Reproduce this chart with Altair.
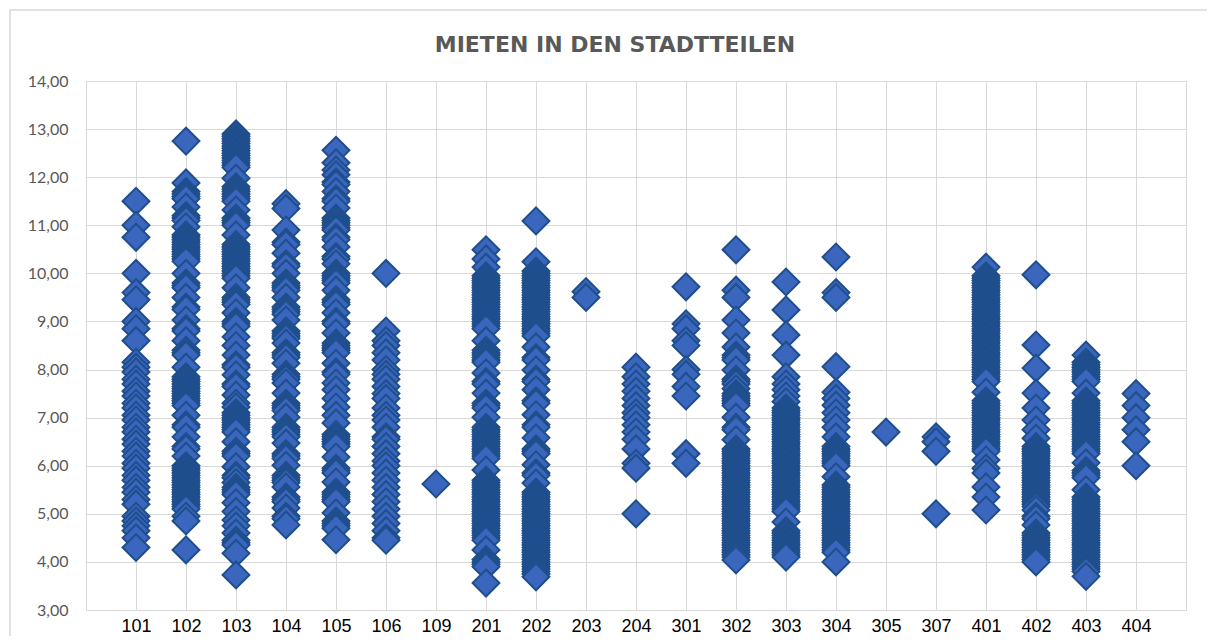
import altair as alt
import pandas as pd

title_text = "MIETEN IN DEN STADTTEILEN"
districts = ["101", "102", "103", "104", "105", "106", "109", "201", "202", "203", "204",
             "301", "302", "303", "304", "305", "307", "401", "402", "403", "404"]
y_ticks = [3, 4, 5, 6, 7, 8, 9, 10, 11, 12, 13, 14]

r101 = [11.5, 11.0, 10.75, 10.0, 9.6, 9.45, 9.0, 8.85, 8.6, 8.15, 8.05, 7.95, 7.8, 7.7, 7.55, 7.45,
        7.3, 7.2, 7.05, 6.95, 6.8, 6.7, 6.55, 6.45, 6.3, 6.2, 6.05, 5.95, 5.8, 5.7, 5.55, 5.45, 5.3,
        5.2, 4.95, 4.85, 4.75, 4.65, 4.5, 4.3]
r102 = [12.75, 11.88, 11.7, 11.65, 11.6, 11.55, 11.38, 11.2, 11.15, 11.1, 10.97, 10.8, 10.75,
        10.7, 10.65, 10.6, 10.55, 10.5, 10.45, 10.4, 10.35, 10.3, 10.25, 10.0, 9.8, 9.75, 9.7,
        9.5, 9.3, 9.25, 9.03, 8.85, 8.8, 8.6, 8.4, 8.35, 8.3, 8.05, 7.85, 7.8, 7.75, 7.7, 7.65,
        7.6, 7.55, 7.5, 7.45, 7.4, 7.35, 7.3, 7.25, 7.05, 6.85, 6.8, 6.6, 6.4, 6.35, 6.2, 6.0,
        5.95, 5.9, 5.85, 5.8, 5.75, 5.7, 5.65, 5.6, 5.55, 5.5, 5.45, 5.4, 5.35, 5.3, 5.25, 5.2,
        5.15, 5.1, 4.95, 4.85, 4.25]
r103 = [12.9, 12.85, 12.8, 12.75, 12.7, 12.65, 12.6, 12.55, 12.5, 12.45, 12.4, 12.35, 12.3,
        12.25, 12.2, 11.98, 11.8, 11.75, 11.7, 11.65, 11.6, 11.55, 11.5, 11.32, 11.15, 11.1,
        11.05, 11.0, 10.8, 10.6, 10.55, 10.5, 10.45, 10.4, 10.35, 10.3, 10.25, 10.2, 10.15,
        10.1, 10.05, 10.0, 9.95, 9.9, 9.7, 9.5, 9.45, 9.4, 9.35, 9.18, 9.0, 8.95, 8.9, 8.68,
        8.5, 8.3, 8.1, 8.05, 7.89, 7.7, 7.65, 7.47, 7.3, 7.22, 7.1, 7.05, 7.0, 6.95, 6.9, 6.85,
        6.8, 6.75, 6.7, 6.5, 6.3, 6.25, 6.2, 5.98, 5.8, 5.75, 5.65, 5.55, 5.5, 5.45, 5.4, 5.23,
        5.05, 4.87, 4.75, 4.6, 4.45, 4.4, 4.35, 4.18, 3.73]
r104 = [11.45, 11.35, 10.9, 10.65, 10.6, 10.42, 10.2, 10.15, 10.0, 9.8, 9.75, 9.7, 9.65, 9.5,
        9.3, 9.25, 9.2, 9.15, 9.03, 8.8, 8.75, 8.7, 8.65, 8.55, 8.35, 8.3, 8.25, 8.13, 7.9, 7.85,
        7.8, 7.72, 7.51, 7.3, 7.25, 7.2, 7.15, 7.01, 6.8, 6.75, 6.7, 6.65, 6.6, 6.47, 6.25, 6.2,
        6.15, 6.01, 5.8, 5.75, 5.7, 5.65, 5.56, 5.35, 5.3, 5.25, 5.12, 4.95, 4.9, 4.77]
r105 = [12.56, 12.3, 12.15, 12.05, 11.9, 11.85, 11.7, 11.55, 11.5, 11.36, 11.15, 11.1, 11.05,
        11.0, 10.95, 10.9, 10.75, 10.7, 10.55, 10.35, 10.3, 10.2, 10.0, 9.95, 9.9, 9.85, 9.8,
        9.65, 9.45, 9.4, 9.35, 9.18, 9.0, 8.95, 8.76, 8.55, 8.5, 8.45, 8.4, 8.35, 8.13, 7.95,
        7.9, 7.72, 7.58, 7.4, 7.22, 7.05, 6.89, 6.65, 6.6, 6.55, 6.5, 6.45, 6.4, 6.18, 5.95, 5.9,
        5.85, 5.66, 5.45, 5.4, 5.35, 5.3, 5.25, 5.02, 4.85, 4.8, 4.75, 4.7, 4.46]
r106 = [10.0, 8.8, 8.6, 8.5, 8.35, 8.2, 8.0, 7.9, 7.8, 7.65, 7.5, 7.4, 7.2, 7.05, 6.95, 6.8, 6.6,
        6.55, 6.4, 6.25, 6.1, 6.0, 5.85, 5.7, 5.55, 5.4, 5.25, 5.1, 4.95, 4.8, 4.65, 4.5, 4.45]
r109 = [5.62]
r201 = [10.49, 10.3, 10.13, 9.95, 9.9, 9.85, 9.8, 9.75, 9.7, 9.65, 9.6, 9.55, 9.5, 9.45, 9.4,
        9.35, 9.3, 9.25, 9.2, 9.15, 9.1, 9.05, 9.0, 8.95, 8.9, 8.85, 8.6, 8.4, 8.35, 8.3, 8.25,
        8.2, 8.15, 7.93, 7.75, 7.7, 7.51, 7.3, 7.25, 7.2, 7.01, 6.8, 6.75, 6.7, 6.65, 6.6, 6.55,
        6.5, 6.45, 6.4, 6.35, 6.3, 6.25, 6.2, 6.15, 5.91, 5.7, 5.65, 5.6, 5.55, 5.5, 5.45, 5.4,
        5.35, 5.3, 5.25, 5.2, 5.15, 5.1, 5.05, 5.0, 4.95, 4.9, 4.85, 4.8, 4.75, 4.7, 4.65, 4.6,
        4.55, 4.5, 4.45, 4.25, 4.05, 4.0, 3.95, 3.9, 3.56]
r202 = [11.09, 10.24, 10.05, 10.0, 9.95, 9.9, 9.85, 9.8, 9.75, 9.7, 9.65, 9.6, 9.55, 9.5, 9.45,
        9.4, 9.35, 9.3, 9.25, 9.2, 9.15, 9.1, 9.05, 9.0, 8.95, 8.9, 8.85, 8.8, 8.75, 8.7, 8.47,
        8.25, 8.2, 7.99, 7.8, 7.75, 7.58, 7.35, 7.3, 7.06, 6.85, 6.8, 6.58, 6.35, 6.3, 6.25,
        6.02, 5.85, 5.8, 5.64, 5.45, 5.4, 5.35, 5.3, 5.25, 5.2, 5.15, 5.1, 5.05, 5.0, 4.95, 4.9,
        4.85, 4.8, 4.75, 4.7, 4.65, 4.6, 4.55, 4.5, 4.45, 4.4, 4.35, 4.3, 4.25, 4.2, 4.15, 4.1,
        4.05, 4.0, 3.95, 3.9, 3.85, 3.8, 3.75, 3.69]
r203 = [9.62, 9.5]
r204 = [8.05, 7.85, 7.7, 7.55, 7.4, 7.25, 7.1, 7.0, 6.85, 6.7, 6.55, 6.35, 6.05, 5.95, 5.0]
r301 = [9.72, 8.95, 8.85, 8.6, 8.5, 8.0, 7.9, 7.65, 7.45, 6.25, 6.05]
r302 = [10.49, 9.65, 9.5, 9.03, 8.76, 8.47, 8.3, 8.25, 8.2, 7.99, 7.8, 7.75, 7.7, 7.6, 7.5, 7.45,
        7.4, 7.35, 7.3, 7.25, 7.01, 6.8, 6.75, 6.54, 6.35, 6.3, 6.25, 6.2, 6.15, 6.1, 6.05, 6.0,
        5.95, 5.9, 5.85, 5.8, 5.75, 5.7, 5.65, 5.6, 5.55, 5.5, 5.45, 5.4, 5.35, 5.3, 5.25, 5.2,
        5.15, 5.1, 5.05, 5.0, 4.95, 4.9, 4.85, 4.8, 4.75, 4.7, 4.65, 4.6, 4.55, 4.5, 4.45, 4.4,
        4.35, 4.3, 4.25, 4.2, 4.15, 4.1, 4.04]
r303 = [9.82, 9.24, 8.72, 8.3, 7.85, 7.7, 7.58, 7.45, 7.33, 7.2, 7.15, 7.1, 7.05, 7.0, 6.95, 6.9,
        6.85, 6.8, 6.75, 6.7, 6.65, 6.6, 6.55, 6.5, 6.45, 6.4, 6.35, 6.3, 6.25, 6.2, 6.15, 6.1,
        6.05, 6.0, 5.95, 5.9, 5.85, 5.8, 5.75, 5.7, 5.65, 5.6, 5.55, 5.5, 5.45, 5.4, 5.35, 5.3,
        5.25, 5.2, 5.15, 5.1, 5.05, 4.83, 4.65, 4.6, 4.55, 4.5, 4.45, 4.4, 4.35, 4.3, 4.25, 4.2,
        4.15, 4.1]
r304 = [10.34, 9.6, 9.5, 8.06, 7.53, 7.4, 7.26, 7.1, 6.95, 6.8, 6.6, 6.4, 6.35, 6.3, 6.25, 6.2,
        6.15, 6.1, 6.05, 6.0, 5.77, 5.6, 5.55, 5.5, 5.45, 5.4, 5.35, 5.3, 5.25, 5.2, 5.15, 5.1,
        5.05, 5.0, 4.95, 4.9, 4.85, 4.8, 4.75, 4.7, 4.65, 4.6, 4.55, 4.5, 4.45, 4.4, 4.35, 4.3,
        4.25, 4.2, 4.0]
r305 = [6.7]
r307 = [6.6, 6.5, 6.3, 5.0]
r401 = [10.13, 9.95, 9.9, 9.85, 9.8, 9.75, 9.7, 9.65, 9.6, 9.55, 9.5, 9.45, 9.4, 9.35, 9.3,
        9.25, 9.2, 9.15, 9.1, 9.05, 9.0, 8.95, 8.9, 8.85, 8.8, 8.75, 8.7, 8.65, 8.6, 8.55, 8.5,
        8.45, 8.4, 8.35, 8.3, 8.25, 8.2, 8.15, 8.1, 8.05, 8.0, 7.95, 7.9, 7.85, 7.8, 7.75, 7.53,
        7.35, 7.3, 7.25, 7.2, 7.15, 7.1, 7.05, 7.0, 6.95, 6.9, 6.85, 6.8, 6.75, 6.7, 6.65, 6.6,
        6.55, 6.5, 6.45, 6.4, 6.35, 6.3, 6.12, 5.95, 5.85, 5.56, 5.35, 5.08]
r402 = [9.97, 8.51, 8.03, 7.51, 7.2, 6.95, 6.75, 6.57, 6.4, 6.35, 6.3, 6.25, 6.2, 6.15, 6.1, 6.05,
        6.0, 5.95, 5.9, 5.85, 5.8, 5.75, 5.7, 5.65, 5.6, 5.55, 5.5, 5.45, 5.4, 5.35, 5.3, 5.25,
        5.2, 5.15, 5.08, 4.95, 4.9, 4.77, 4.6, 4.55, 4.5, 4.45, 4.4, 4.35, 4.3, 4.25, 4.2, 4.15,
        4.1, 4.05, 4.0]
r403 = [8.3, 8.15, 8.1, 8.05, 8.0, 7.95, 7.9, 7.85, 7.8, 7.75, 7.51, 7.35, 7.3, 7.25, 7.2, 7.15,
        7.1, 7.05, 7.0, 6.95, 6.9, 6.85, 6.8, 6.75, 6.7, 6.65, 6.6, 6.55, 6.5, 6.45, 6.4, 6.35,
        6.3, 6.25, 6.06, 5.9, 5.85, 5.8, 5.75, 5.5, 5.35, 5.3, 5.25, 5.2, 5.15, 5.1, 5.05, 5.0,
        4.95, 4.9, 4.85, 4.8, 4.75, 4.7, 4.65, 4.6, 4.55, 4.5, 4.45, 4.4, 4.35, 4.3, 4.25, 4.2,
        4.15, 4.1, 4.05, 4.0, 3.95, 3.9, 3.85, 3.8, 3.7]
r404 = [7.5, 7.25, 7.0, 6.75, 6.5, 6.0]

series = [r101, r102, r103, r104, r105, r106, r109, r201, r202, r203, r204,
          r301, r302, r303, r304, r305, r307, r401, r402, r403, r404]

rows = []
for code, vals in zip(districts, series):
    for v in vals:
        rows.append({"district": code, "miete": v})
df = pd.DataFrame(rows)

GRID = "#d9d9d9"

W, H = 1100, 529

frame = alt.Chart(pd.DataFrame({"k": [0]})).mark_rect(
    fillOpacity=0, stroke=GRID, strokeWidth=1.5
).encode(x=alt.value(-76), x2=alt.value(W + 40), y=alt.value(-71), y2=alt.value(H + 80))

title = alt.Chart(pd.DataFrame({"t": [title_text]})).mark_text(
    font="DejaVu Sans", fontSize=22, fontWeight="bold", color="#595959",
    align="center", baseline="alphabetic"
).encode(text="t:N", x=alt.value(529), y=alt.value(-29))

points = alt.Chart(df).mark_point(
    shape="diamond", filled=True, size=720, fill="#3A66BE", stroke="#1F4E8C",
    strokeWidth=2, opacity=1, fillOpacity=1, strokeOpacity=1
).encode(
    x=alt.X("district:N", sort=districts,
            scale=alt.Scale(type="point", padding=1),
            axis=alt.Axis(title=None, labelAngle=0, labelFont="Liberation Sans",
                          labelFontSize=18, labelColor="#000000", labelPadding=7,
                          labelBaseline="top", ticks=False, domain=False, grid=True,
                          gridColor=GRID, gridWidth=1)),
    y=alt.Y("miete:Q", scale=alt.Scale(domain=[3, 14], nice=False, zero=False),
            axis=alt.Axis(title=None, values=y_ticks,
                          labelExpr="replace(format(datum.value, '.2f'), '.', ',')",
                          labelFont="Lato", labelFontSize=16, labelColor="#595959",
                          labelPadding=18, ticks=False, domain=False, grid=True,
                          gridColor=GRID, gridWidth=1))
)

chart = alt.layer(frame, points, title).properties(
    width=W, height=H,
    autosize=alt.AutoSizeParams(type="none"),
    padding={"left": 78, "top": 73, "right": 21, "bottom": 26},
    background="white"
).configure_view(stroke=GRID, strokeWidth=1)

chart.save("out.html", embed_options={"renderer": "svg", "actions": False})
